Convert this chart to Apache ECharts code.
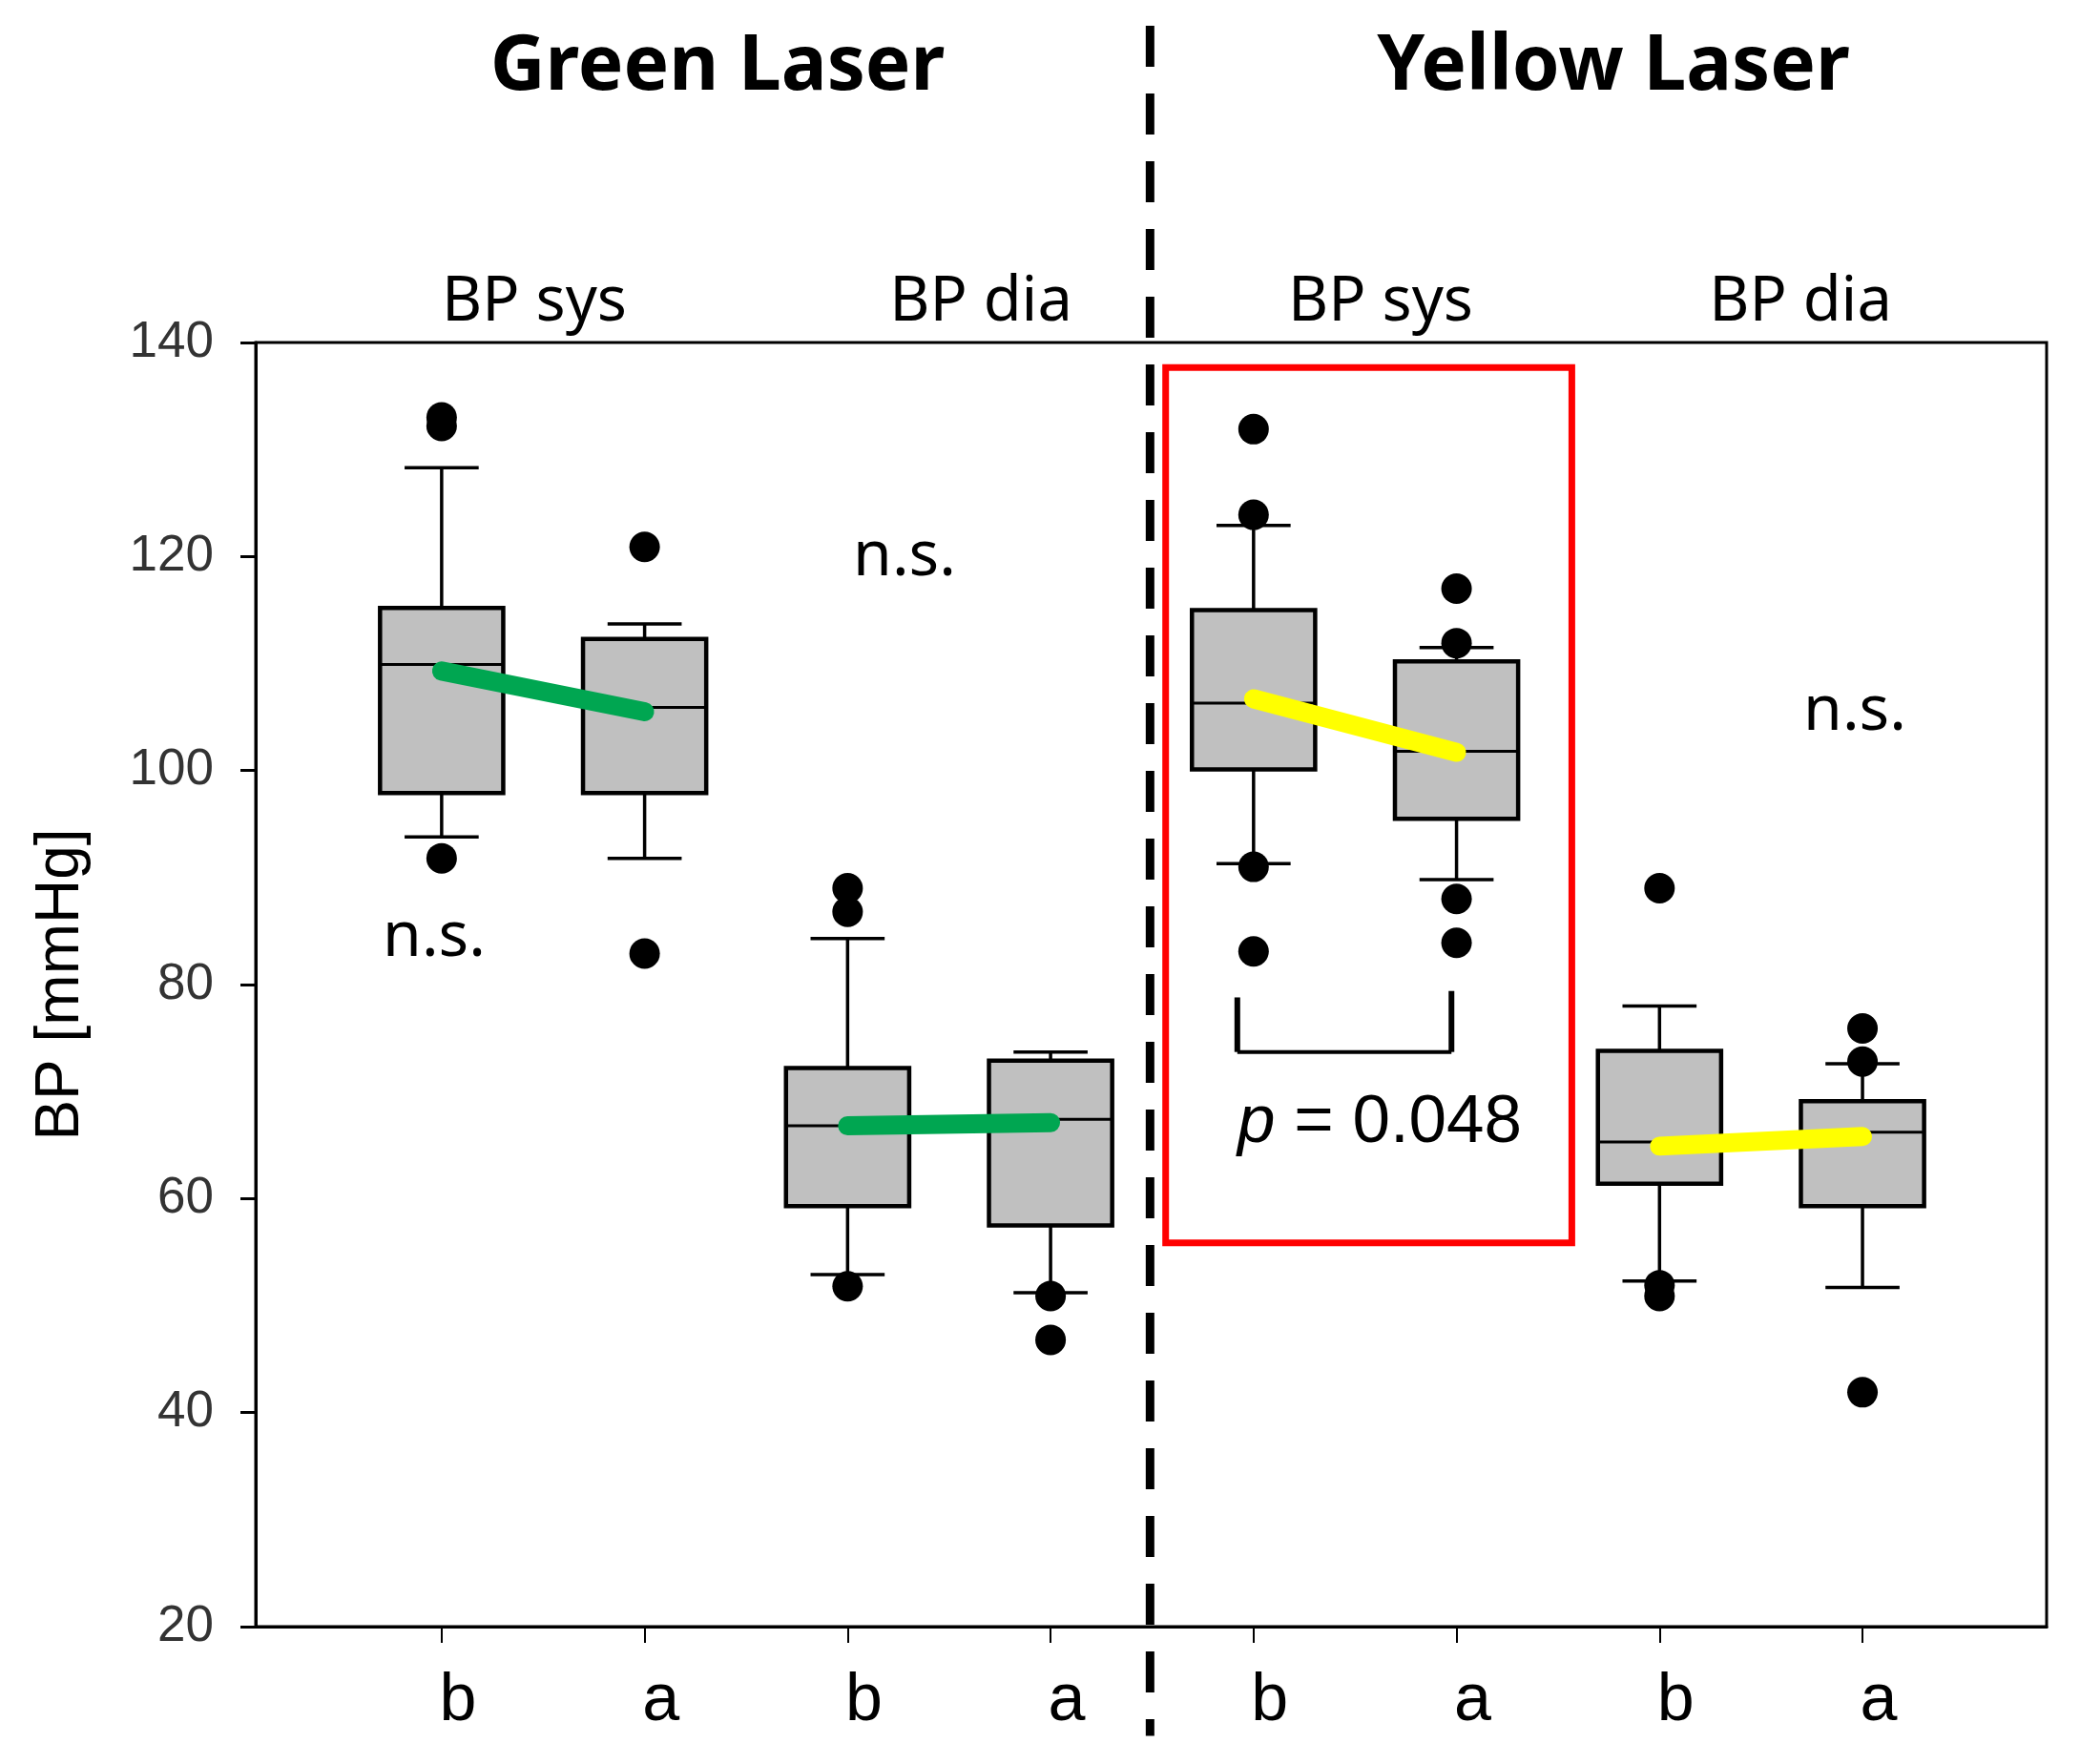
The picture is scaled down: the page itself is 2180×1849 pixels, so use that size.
<!DOCTYPE html>
<html><head><meta charset="utf-8">
<script src="https://cdn.jsdelivr.net/npm/echarts@6/dist/echarts.min.js"></script>
<style>html,body{margin:0;padding:0;background:#fff}#c{width:2180px;height:1849px}</style>
</head><body><div id="c"></div><script>
// ---------- data ----------
const categories = ['b', 'a', 'b', 'a', 'b', 'a', 'b', 'a'];
const groupTitles = ['Green Laser', 'Yellow Laser'];
const panelLabels = ['BP sys', 'BP dia', 'BP sys', 'BP dia'];
const yTicks = [20, 40, 60, 80, 100, 120, 140];
const categoryPos = [0, 1, 2, 3, 4, 5, 6, 7];

const whiskerLow  = [93.8, 91.8, 52.9, 51.2, 91.3, 89.8, 52.3, 51.7];
const q1          = [97.9, 97.9, 59.3, 57.5, 100.1, 95.5, 61.4, 59.3];
const median      = [109.9, 105.9, 66.8, 67.4, 106.3, 101.8, 65.3, 66.2];
const q3          = [115.2, 112.3, 72.2, 72.9, 115.0, 110.2, 73.8, 69.1];
const whiskerHigh = [128.3, 113.7, 84.3, 73.7, 122.9, 111.5, 78.0, 72.6];
const outliers = [
  [133.0, 132.2, 91.8],
  [120.9, 82.9],
  [89.0, 86.8, 51.8],
  [50.9, 46.8],
  [131.9, 123.9, 91.0, 83.1],
  [117.0, 111.9, 88.0, 83.9],
  [89.0, 51.9, 50.9],
  [75.9, 72.8, 41.9]
];
const greenSysMean  = [109.3, 105.5];
const greenDiaMean  = [66.8, 67.1];
const yellowSysMean = [106.7, 101.7];
const yellowDiaMean = [64.9, 65.8];

const dividerX = 3.49;
const highlightBox = [[3.567, 137.66], [5.568, 55.86]];
const bracketLeft  = [[3.92, 78.8], [3.92, 73.7]];
const bracketRight = [[4.975, 79.4], [4.975, 73.7]];
const bracketBar   = [[3.92, 73.7], [4.975, 73.7]];
const pValueText = '0.048';
const nsText = 'n.s.';

// ---------- build ----------
const boxData = categoryPos.map((x, i) => [x, whiskerLow[i], q1[i], median[i], q3[i], whiskerHigh[i]]);
const outlierData = [];
outliers.forEach((arr, i) => arr.forEach(v => outlierData.push([categoryPos[i], v])));

const BOX_W = 0.607, CAP_W = 0.365;
function renderBox(params, api) {
  const x = api.value(0);
  const unit = api.size([1, 0])[0];
  const half = unit * BOX_W / 2, capHalf = unit * CAP_W / 2;
  const pLo = api.coord([x, api.value(1)]);
  const pQ1 = api.coord([x, api.value(2)]);
  const pMd = api.coord([x, api.value(3)]);
  const pQ3 = api.coord([x, api.value(4)]);
  const pHi = api.coord([x, api.value(5)]);
  const cx = pMd[0];
  const ls = { stroke: '#000', lineWidth: 3.5 };
  return {
    type: 'group',
    children: [
      { type: 'line', shape: { x1: cx, y1: pHi[1], x2: cx, y2: pQ3[1] }, style: ls },
      { type: 'line', shape: { x1: cx, y1: pQ1[1], x2: cx, y2: pLo[1] }, style: ls },
      { type: 'line', shape: { x1: cx - capHalf, y1: pHi[1], x2: cx + capHalf, y2: pHi[1] }, style: ls },
      { type: 'line', shape: { x1: cx - capHalf, y1: pLo[1], x2: cx + capHalf, y2: pLo[1] }, style: ls },
      { type: 'rect', shape: { x: cx - half, y: pQ3[1], width: half * 2, height: pQ1[1] - pQ3[1] },
        style: { fill: '#c0c0c0', stroke: '#000', lineWidth: 4.5 } },
      { type: 'line', shape: { x1: cx - half, y1: pMd[1], x2: cx + half, y2: pMd[1] }, style: { stroke: '#000', lineWidth: 3 } }
    ]
  };
}

function meanLine(vals, color, x0) {
  return {
    type: 'line', data: [[categoryPos[x0], vals[0]], [categoryPos[x0 + 1], vals[1]]],
    symbol: 'none', z: 5, silent: true,
    lineStyle: { color: color, width: 20, cap: 'round' }
  };
}
function blackLine(pts, w) {
  return { type: 'line', data: pts, symbol: 'none', z: 6, silent: true, lineStyle: { color: '#000', width: w } };
}

const GREEN = '#00a651', YELLOW = '#ffff00';

const chart = echarts.init(document.getElementById('c'), null, { renderer: 'canvas' });
const option = {
  animation: false,
  backgroundColor: '#fff',
  grid: { left: 268, right: 35, top: 359, bottom: 144, show: true, borderColor: '#000', borderWidth: 3, backgroundColor: 'transparent' },
  xAxis: {
    type: 'value', min: -0.916, max: 7.907,
    axisLine: { show: true, onZero: false, lineStyle: { color: '#000', width: 3 } },
    splitLine: { show: false },
    axisTick: { show: true, length: 17, lineStyle: { color: '#000', width: 2 }, customValues: categoryPos },
    axisLabel: {
      customValues: categoryPos, margin: 44, fontSize: 70, color: '#000',
      fontFamily: 'Liberation Sans, Arial, sans-serif', padding: [0, 0, 0, 34],
      formatter: v => categories[Math.round(v)]
    }
  },
  yAxis: {
    type: 'value', min: yTicks[0], max: yTicks[yTicks.length - 1], interval: 20,
    name: 'BP [mmHg]', nameLocation: 'middle', nameGap: 172, nameRotate: 90,
    nameTextStyle: { fontSize: 64, color: '#000', fontFamily: 'Liberation Sans Narrow, Liberation Sans, Arial, sans-serif' },
    axisLine: { show: true, onZero: false, lineStyle: { color: '#000', width: 3 } },
    splitLine: { show: false },
    axisTick: { show: true, length: 16, lineStyle: { color: '#000', width: 3 } },
    axisLabel: { fontSize: 53, color: '#333', margin: 44, fontFamily: 'Liberation Sans, Arial, sans-serif' }
  },
  series: [
    { type: 'custom', renderItem: renderBox, data: boxData, encode: { x: 0, y: [1, 2, 3, 4, 5] }, z: 2, silent: true },
    meanLine(greenSysMean, GREEN, 0),
    meanLine(greenDiaMean, GREEN, 2),
    meanLine(yellowSysMean, YELLOW, 4),
    meanLine(yellowDiaMean, YELLOW, 6),
    {
      type: 'scatter', data: outlierData, symbol: 'circle', symbolSize: 32, z: 4, silent: true,
      itemStyle: { color: '#000', opacity: 1 },
      markArea: {
        silent: true,
        itemStyle: { color: 'rgba(0,0,0,0)', borderColor: '#ff0000', borderWidth: 7 },
        data: [[{ coord: highlightBox[0] }, { coord: highlightBox[1] }]]
      }
    },
    blackLine(bracketLeft, 6),
    blackLine(bracketRight, 6),
    blackLine(bracketBar, 4)
  ]
};
chart.setOption(option);

// annotations positioned through the axes
const topY = chart.convertToPixel({ yAxisIndex: 0 }, 169.6);
const botY = chart.convertToPixel({ yAxisIndex: 0 }, 9.8);
const divX = chart.convertToPixel({ xAxisIndex: 0 }, dividerX);

const titleFont = { fontFamily: 'Noto Sans, sans-serif', fontWeight: 'bold', fontSize: 80, fill: '#000' };
const panelFont = { fontFamily: 'Noto Sans, sans-serif', fontSize: 65, fill: '#000' };
const nsFont = { fontFamily: 'Noto Sans, sans-serif', fontSize: 66, fill: '#000' };
function txt(text, x, y, style, align) {
  return { type: 'text', x: x, y: y, z: 20, style: Object.assign({ text: text, align: align || 'center', verticalAlign: 'middle' }, style) };
}
chart.setOption({
  graphic: [
    { type: 'line', z: 10, shape: { x1: divX, y1: topY, x2: divX, y2: botY },
      style: { stroke: '#000', lineWidth: 9, lineDash: [43, 28] } },
    txt(groupTitles[0], 752, 71, titleFont),
    txt(groupTitles[1], 1691, 71, titleFont),
    txt(panelLabels[0], 560, 317, panelFont),
    txt(panelLabels[1], 1028, 317, panelFont),
    txt(panelLabels[2], 1447, 317, panelFont),
    txt(panelLabels[3], 1887, 317, panelFont),
    txt(nsText, 455, 983, nsFont),
    txt(nsText, 948, 584, nsFont),
    txt(nsText, 1944, 746, nsFont),
    { type: 'text', x: 1297, y: 1177, z: 20, style: {
        text: '{i|p} = ' + pValueText, align: 'left', verticalAlign: 'middle',
        fontFamily: 'Liberation Sans, Arial, sans-serif', fontSize: 71, fill: '#000',
        rich: { i: { fontStyle: 'italic', fontSize: 71, fontFamily: 'Liberation Sans, Arial, sans-serif' } }
    } }
  ]
});
</script></body></html>
